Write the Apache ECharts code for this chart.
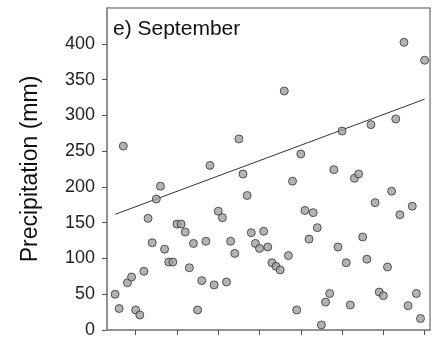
<!DOCTYPE html>
<html>
<head>
<meta charset="utf-8">
<script src="https://cdn.jsdelivr.net/npm/echarts@6/dist/echarts.min.js"></script>
<style>html,body{margin:0;padding:0;background:#fff;}#c{width:441px;height:340px;}</style>
</head>
<body>
<div id="c"></div>
<script>
const startYear = 1925;
const precip = [50,30,257,66,74,28,21,82,156,122,
183,201,113,95,95,148,148,137,87,121,
28,69,124,230,63,166,157,67,124,107,
267,218,188,136,121,114,138,116,94,89,
84,334,104,208,28,246,167,127,164,143,
7,39,51,224,116,278,94,35,212,218,
130,99,287,178,53,48,88,194,295,161,
402,34,173,51,16,377];
const trendYears = [1925, 2000];
const trendValues = [161.6, 322.6];
const xTicks = [1930,1940,1950,1960,1970,1980,1990,2000];
const yTicks = [0,50,100,150,200,250,300,350,400];
const titleText = 'e) September';
const yName = 'Precipitation (mm)';
const trendLabel = '90th';

const points = precip.map((v, i) => [startYear + i, v]);
const trend = trendYears.map((y, i) => [y, trendValues[i]]);

const chart = echarts.init(document.getElementById('c'));
const axisColor = '#8a8a8a';
chart.setOption({
  animation: false,
  title: {
    text: titleText, left: 113, top: 19, padding: 0,
    textStyle: {fontFamily: 'Liberation Sans', fontSize: 21, fontWeight: 'normal', color: '#111'}
  },
  grid: {left: 107, top: 8, right: 11, bottom: 10, show: true, borderColor: axisColor, borderWidth: 1.5, containLabel: false},
  xAxis: {
    type: 'value', min: 1923.05, max: 2001.3,
    axisLine: {show: true, lineStyle: {color: axisColor, width: 1.5}},
    axisTick: {show: true, length: 5, customValues: xTicks, lineStyle: {color: '#555', width: 1}},
    axisLabel: {show: false},
    splitLine: {show: false}
  },
  yAxis: {
    type: 'value', min: 0, max: 450,
    name: yName, nameLocation: 'middle', nameRotate: 90, nameGap: 65,
    nameTextStyle: {fontFamily: 'Liberation Sans', fontSize: 23, color: '#111'},
    axisLine: {show: true, lineStyle: {color: axisColor, width: 1.5}},
    axisTick: {show: true, length: 5, customValues: yTicks, lineStyle: {color: '#555', width: 1}},
    axisLabel: {show: true, customValues: yTicks, margin: 12, fontFamily: 'Liberation Sans', fontSize: 18, color: '#222'},
    splitLine: {show: false}
  },
  series: [
    {
      type: 'line', data: trend, symbol: 'none', silent: true,
      lineStyle: {color: '#333', width: 1}, z: 1
    },
    {
      type: 'scatter', data: points, symbol: 'circle', symbolSize: 8,
      itemStyle: {color: '#a0a0a0', borderColor: '#333', borderWidth: 1}, z: 3
    },
    {
      type: 'scatter', data: [trend[1]], symbolSize: 1, silent: true,
      itemStyle: {opacity: 0},
      label: {show: true, formatter: trendLabel, position: 'top', align: 'right', distance: 3,
        fontFamily: 'Liberation Sans', fontSize: 17, color: '#222'}
    }
  ]
});
</script>
</body>
</html>
